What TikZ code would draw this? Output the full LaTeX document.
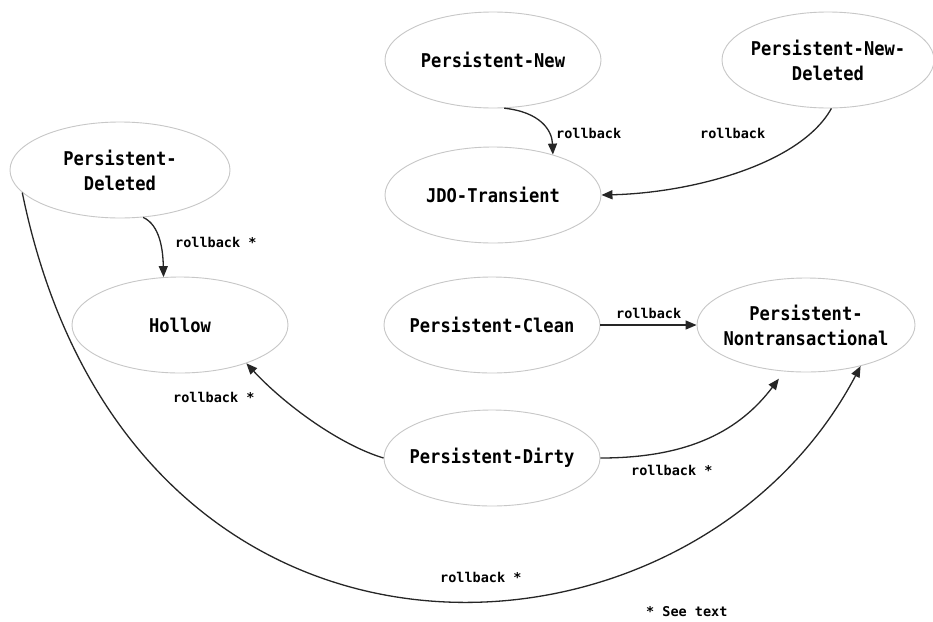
\documentclass[tikz,border=0pt]{standalone}
\usepackage{fontspec}
\usetikzlibrary{shapes.geometric,arrows.meta}
\newfontfamily\statefont[FakeStretch=0.9]{DejaVu Sans Mono}
\newfontfamily\labelfont{DejaVu Sans Mono}

\begin{document}
\begin{tikzpicture}[x=1pt,y=-1pt,
  state/.style={ellipse, draw=black!22, line width=0.9pt,
    minimum width=216pt, minimum height=96pt,
    inner xsep=-8pt, inner ysep=0pt, align=center,
    font=\statefont\bfseries\fontsize{19}{25}\selectfont},
  trans/.style={draw=black!85, line width=1.3pt,
    -{Triangle[length=11pt,width=9pt]}},
  lbl/.style={anchor=west, inner sep=0pt,
    font=\labelfont\bfseries\fontsize{13.5}{16}\selectfont}]

\fill[white] (0,0) rectangle (933,621);
\useasboundingbox (0,0) rectangle (933,621);

% states
\node[state] (pnew)   at (493,60)  {Persistent-New};
\node[state, minimum width=212pt] (pnd) at (828,60) {Persistent-New-\\Deleted};
\node[state] (jdo)    at (493,195) {JDO-Transient};
\node[state, minimum width=220pt] (pdel) at (120,170) {Persistent-\\Deleted};
\node[state] (hollow) at (180,325) {Hollow};
\node[state] (pclean) at (492,325) {Persistent-Clean};
\node[state, minimum width=218pt, minimum height=94pt] (pnt) at (806,325) {Persistent-\\Nontransactional};
\node[state] (pdirty) at (492,458) {Persistent-Dirty};

% rollback transitions
\draw[trans] (pnew.283) .. controls (540,112) and (552,130) .. (jdo.34);
\draw[trans] (pnd.274) .. controls (800,165) and (690,193) .. (jdo.east);
\draw[trans] (pdel.296) .. controls (160,225) and (163,250) .. (hollow.109);
\draw[trans] (pclean) -- (pnt);
\draw[trans] (pdirty.west) .. controls (340,445) and (285,405) .. (hollow.-30);
\draw[trans, shorten >=9pt] (pdirty.east) .. controls (690,458) and (740,430) .. (pnt.245);
\draw[trans] (pdel.193) .. controls (130,720) and (690,690) .. (pnt.323);

% transition labels
\node[lbl] (l1) at (556,133) {rollback};
\node[lbl] (l2) at (700,133) {rollback};
\node[lbl] (l3) at (175,242) {rollback *};
\node[lbl] (l4) at (616,313) {rollback};
\node[lbl] (l5) at (173,397) {rollback *};
\node[lbl] (l6) at (631,470) {rollback *};
\node[lbl] (l7) at (440,577) {rollback *};
\node[lbl] (note) at (646,612) {* See text};
\end{tikzpicture}
\end{document}
